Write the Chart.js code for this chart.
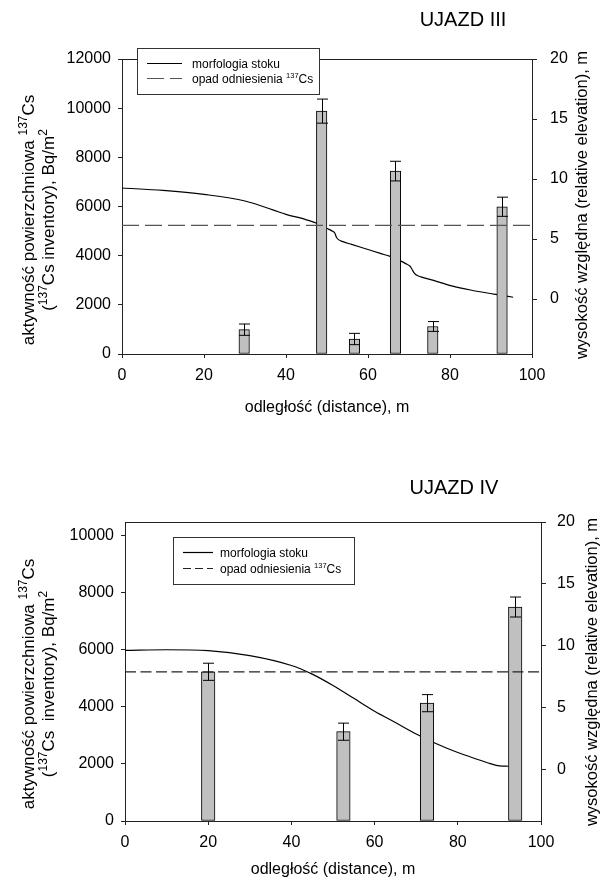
<!DOCTYPE html>
<html><head><meta charset="utf-8">
<script src="https://cdn.jsdelivr.net/npm/chart.js@4.4.1/dist/chart.umd.min.js"></script>
<style>
html,body{margin:0;padding:0;background:#fff;}
#wrap{position:relative;width:600px;height:881px;overflow:hidden;}
canvas{position:absolute;left:0;}
</style></head><body>
<div id="wrap">
<canvas id="c3" width="600" height="440" style="top:0px"></canvas>
<canvas id="c4" width="600" height="441" style="top:440px"></canvas>
</div>
<script>
const FONT = '"Liberation Sans", Arial, Helvetica, sans-serif';

// shared tick labels
const xTicks = [0, 20, 40, 60, 80, 100];
const rightTicks = [0, 5, 10, 15, 20];

// ---------- UJAZD III ----------
const leftTicks3 = [0, 2000, 4000, 6000, 8000, 10000, 12000];
const dist3 = [29.8, 48.7, 56.7, 66.7, 75.8, 92.7];
const cs3 = [990, 9880, 610, 7440, 1120, 5990];
const err3 = [230, 490, 230, 400, 200, 390];
const elevX3 = [0, 10, 20, 30, 40, 45, 47.5, 50, 51.2, 51.9, 52.3, 52.8, 53.7, 56, 59.8, 63, 65.4, 67.8, 69.2, 70.2, 70.7, 71.2, 71.8, 72.9, 76, 80.4, 85, 90.7, 95.4];
const elevY3 = [9.25, 9.05, 8.72, 8.17, 7.06, 6.6, 6.31, 5.87, 5.68, 5.5, 5.15, 4.95, 4.8, 4.55, 4.15, 3.8, 3.55, 3.2, 2.95, 2.75, 2.5, 2.2, 2.0, 1.85, 1.55, 1.1, 0.75, 0.41, 0.15];
const ref3 = 5230;

// ---------- UJAZD IV ----------
const leftTicks4 = [0, 2000, 4000, 6000, 8000, 10000];
const dist4 = [20, 52.5, 72.6, 93.8];
const cs4 = [5230, 3130, 4130, 7500];
const err4 = [300, 300, 300, 350];
const elevX4 = [0, 10, 20, 30, 40, 45, 50, 55, 60, 65, 70, 75, 80, 85, 88, 90, 92.2];
const elevY4 = [9.61, 9.66, 9.59, 9.19, 8.39, 7.69, 6.77, 5.73, 4.69, 3.77, 2.84, 2.03, 1.34, 0.76, 0.42, 0.26, 0.23];
const ref4 = 5230;

function richWidth(ctx, segs, size, supSize) {
  let w = 0;
  for (const s of segs) { ctx.font = (s.sup ? supSize : size) + 'px ' + FONT; w += ctx.measureText(s.t).width; }
  return w;
}
function drawRich(ctx, segs, x, y, size, supSize, raise, align) {
  const w = richWidth(ctx, segs, size, supSize);
  let cx = align === 'left' ? x : x - w / 2;
  ctx.textAlign = 'left'; ctx.textBaseline = 'alphabetic'; ctx.fillStyle = '#000';
  for (const s of segs) {
    ctx.font = (s.sup ? supSize : size) + 'px ' + FONT;
    ctx.fillText(s.t, cx, s.sup ? y - raise : y);
    cx += ctx.measureText(s.t).width;
  }
}

const leftTitle1 = [{t: 'aktywność powierzchniowa '}, {t: '137', sup: true}, {t: 'Cs'}];
const leftTitle2a = [{t: '('}, {t: '137', sup: true}, {t: 'Cs inventory), Bq/m'}, {t: '2', sup: true}];
const leftTitle2b = [{t: '('}, {t: '137', sup: true}, {t: 'Cs  inventory), Bq/m'}, {t: '2', sup: true}];
const rightTitle = [{t: 'wysokość względna (relative elevation), m'}];
const xTitle = [{t: 'odległość (distance), m'}];
const legText1 = [{t: 'morfologia stoku'}];
const legText2 = [{t: 'opad odniesienia '}, {t: '137', sup: true}, {t: 'Cs'}];

function decorPlugin(cfg) {
  return {
    id: 'decor',
    afterDatasetsDraw(chart) {
      const ctx = chart.ctx;
      const xs = chart.scales.x, ys = chart.scales.y;
      ctx.save();
      ctx.strokeStyle = '#000'; ctx.lineWidth = 1;
      cfg.dist.forEach((d, i) => {
        const px = Math.round(xs.getPixelForValue(d)) + 0.5;
        const yt = ys.getPixelForValue(cfg.vals[i] + cfg.errs[i]);
        const yb = ys.getPixelForValue(cfg.vals[i] - cfg.errs[i]);
        ctx.beginPath();
        ctx.moveTo(px, yt); ctx.lineTo(px, yb);
        ctx.moveTo(px - cfg.cap, yt); ctx.lineTo(px + cfg.cap, yt);
        ctx.moveTo(px - cfg.cap, yb); ctx.lineTo(px + cfg.cap, yb);
        ctx.stroke();
      });
      ctx.restore();
    },
    afterDraw(chart) {
      const ctx = chart.ctx, ca = chart.chartArea;
      ctx.save();
      ctx.strokeStyle = '#222'; ctx.lineWidth = 1;
      ctx.beginPath(); ctx.moveTo(ca.left, Math.round(ca.top) + 0.5); ctx.lineTo(ca.right, Math.round(ca.top) + 0.5); ctx.stroke();
      ctx.fillStyle = '#000';
      drawRich(ctx, [{t: cfg.title}], cfg.titleX, cfg.titleY, 20, 12, 0, 'center');
      drawRich(ctx, xTitle, (ca.left + ca.right) / 2, cfg.xTitleY, 16, 11, 0, 'center');
      ctx.save(); ctx.translate(cfg.l1x, cfg.lcy); ctx.rotate(-Math.PI / 2);
      drawRich(ctx, leftTitle1, 0, 0, 17, 12, 7, 'center'); ctx.restore();
      ctx.save(); ctx.translate(cfg.l2x, cfg.lcy); ctx.rotate(-Math.PI / 2);
      drawRich(ctx, cfg.left2, 0, 0, 17, 12, 7, 'center'); ctx.restore();
      ctx.save(); ctx.translate(cfg.rx, cfg.rcy); ctx.rotate(-Math.PI / 2);
      drawRich(ctx, rightTitle, 0, 0, 16.5, 12, 0, 'center'); ctx.restore();
      const L = cfg.leg;
      ctx.fillStyle = '#fff';
      ctx.fillRect(L.x, L.y, L.w, L.h);
      ctx.strokeStyle = '#333'; ctx.lineWidth = 1;
      ctx.strokeRect(L.x + 0.5, L.y + 0.5, L.w, L.h);
      ctx.strokeStyle = '#000'; ctx.lineWidth = 1.2;
      ctx.beginPath(); ctx.moveTo(L.sx1, L.r1 + 0.5); ctx.lineTo(L.sx2, L.r1 + 0.5); ctx.stroke();
      ctx.strokeStyle = cfg.refColor; ctx.setLineDash(cfg.legDash);
      ctx.beginPath(); ctx.moveTo(L.sx1, L.r2 + 0.5); ctx.lineTo(L.sx2, L.r2 + 0.5); ctx.stroke();
      ctx.setLineDash([]);
      drawRich(ctx, legText1, L.tx, L.r1 + 4.5, 12, 7.5, 5, 'left');
      drawRich(ctx, legText2, L.tx, L.r2 + 4.5, 12, 7.5, 5, 'left');
      ctx.restore();
    }
  };
}

function makeChart(id, o) {
  const tickFont = {family: FONT, size: 16};
  const gridBase = {drawOnChartArea: false, drawTicks: true, color: '#222', lineWidth: 1};
  const plain = v => String(v);
  return new Chart(document.getElementById(id), {
    type: 'bar',
    data: {
      datasets: [
        {type: 'line', data: o.elevX.map((x, i) => ({x, y: o.elevY[i]})), yAxisID: 'y1',
          borderColor: '#000', borderWidth: 1.2, pointRadius: 0, cubicInterpolationMode: 'monotone', fill: false, order: 3},
        {type: 'bar', data: o.dist.map((x, i) => ({x, y: o.vals[i]})), yAxisID: 'y',
          backgroundColor: '#c0c0c0', borderColor: '#000', borderWidth: 1, borderSkipped: false,
          barThickness: o.barW, order: 2},
        {type: 'line', data: [{x: 0, y: o.ref}, {x: 100, y: o.ref}], yAxisID: 'y',
          borderColor: o.refColor, borderWidth: 1.3, borderDash: o.dash, pointRadius: 0, fill: false, order: 1}
      ]
    },
    options: {
      responsive: false, animation: false, devicePixelRatio: 1,
      layout: {padding: {top: o.padTop, left: 0, right: 0, bottom: 0}},
      plugins: {legend: {display: false}, tooltip: {enabled: false}},
      scales: {
        x: {type: 'linear', min: 0, max: 100, offset: false,
          afterBuildTicks: s => { s.ticks = xTicks.map(v => ({value: v})); },
          afterFit: s => { s.height = o.xH; },
          grid: Object.assign({}, gridBase, {tickLength: 4, offset: false}),
          border: {display: true, color: '#222', width: 1},
          ticks: {padding: 8, color: '#000', font: tickFont, maxRotation: 0, autoSkip: false, callback: plain}},
        y: {type: 'linear', position: 'left', min: 0, max: o.leftMax,
          afterBuildTicks: s => { s.ticks = o.leftTicks.map(v => ({value: v})); },
          afterFit: s => { s.width = o.yW; },
          grid: Object.assign({}, gridBase, {tickLength: 4}),
          border: {display: true, color: '#222', width: 1},
          ticks: {padding: 7, color: '#000', font: tickFont, autoSkip: false, callback: plain}},
        y1: {type: 'linear', position: 'right', min: o.rightMin, max: 20,
          afterBuildTicks: s => { s.ticks = rightTicks.map(v => ({value: v})); },
          afterFit: s => { s.width = o.y1W; },
          grid: Object.assign({}, gridBase, {tickLength: 5}),
          border: {display: true, color: '#222', width: 1},
          ticks: {padding: o.rPad, color: '#000', font: tickFont, autoSkip: false, callback: plain}}
      }
    },
    plugins: [decorPlugin(o)]
  });
}

makeChart('c3', {
  elevX: elevX3, elevY: elevY3, dist: dist3, vals: cs3, errs: err3, ref: ref3,
  leftTicks: leftTicks3, leftMax: 12000, rightMin: -4.58,
  barW: 10.5, cap: 5.5, refColor: '#555', dash: [17, 6], legDash: [17, 6],
  padTop: 59, xH: 86, yW: 122, y1W: 68, rPad: 13,
  title: 'UJAZD III', titleX: 463, titleY: 26, xTitleY: 412,
  l1x: 34, l2x: 54, lcy: 220, left2: leftTitle2a, rx: 587, rcy: 205,
  leg: {x: 137, y: 48, w: 182, h: 46, r1: 63, r2: 78, sx1: 147, sx2: 182, tx: 192}
});

makeChart('c4', {
  elevX: elevX4, elevY: elevY4, dist: dist4, vals: cs4, errs: err4, ref: ref4,
  leftTicks: leftTicks4, leftMax: 10480, rightMin: -4.2,
  barW: 13.5, cap: 5.5, refColor: '#222', dash: [11, 4.5], legDash: [8, 4],
  padTop: 82, xH: 60, yW: 125, y1W: 59, rPad: 11,
  title: 'UJAZD IV', titleX: 454, titleY: 54, xTitleY: 434,
  l1x: 34, l2x: 54, lcy: 244, left2: leftTitle2b, rx: 597, rcy: 232,
  leg: {x: 173, y: 97, w: 181, h: 47, r1: 112, r2: 128, sx1: 183, sx2: 213, tx: 220}
});
</script>
</body></html>
